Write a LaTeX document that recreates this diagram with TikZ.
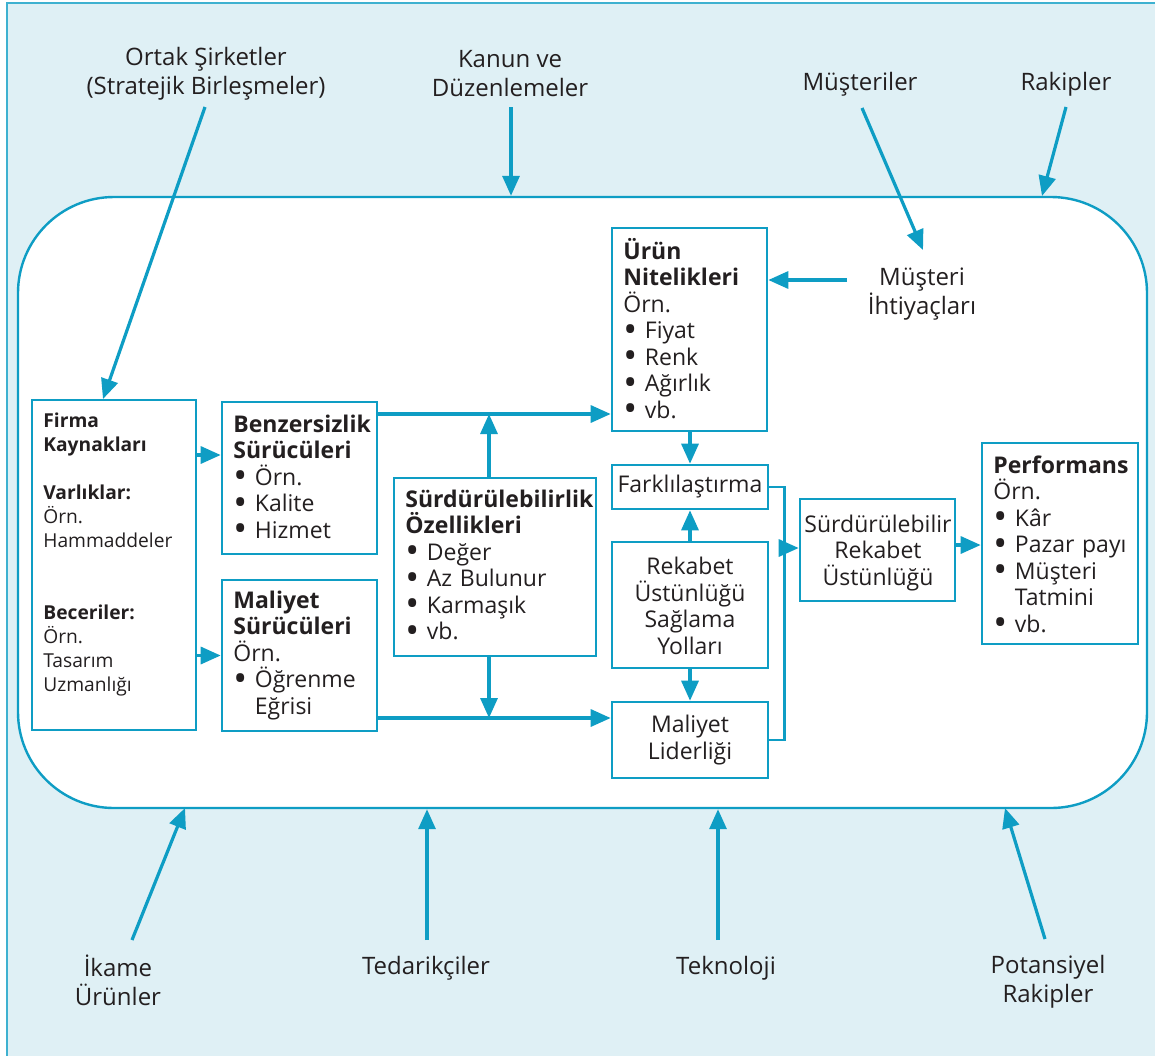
\documentclass[tikz,border=0pt]{standalone}
\usepackage{fontspec}
\setmainfont{Open Sans}
\usetikzlibrary{arrows.meta,fit}
\definecolor{cyanline}{RGB}{14,157,196}
\definecolor{paleblue}{RGB}{223,240,245}
\definecolor{ink}{RGB}{35,31,32}
% a larger list bullet
\newcommand{\bul}{\smash{\raisebox{-0.32ex}{\scalebox{1.6}{•}}}\ }

\begin{document}
\begin{tikzpicture}[x=0.5pt,y=-0.5pt,
  box/.style={draw=cyanline, line width=1.3pt, inner sep=0pt, fill=white},
  conn/.style={draw=cyanline, line width=1.6pt, -{Triangle[length=10pt,width=8.5pt]}},
  bracket/.style={draw=cyanline, line width=1.2pt},
  outer/.style={align=center, font=\fontsize{12}{14.5}\selectfont, text=ink, inner sep=0pt},
  boxtext/.style={anchor=base west, inner sep=0pt, align=left, text width=#1,
    font=\fontsize{11.5}{13.25}\selectfont, text=ink},
  smalltext/.style={anchor=base west, inner sep=0pt, align=left, text width=#1,
    font=\fontsize{9.6}{12}\selectfont, text=ink},
  ctext/.style={align=center, inner sep=0pt, font=\fontsize{11.5}{13.25}\selectfont, text=ink},
]
\useasboundingbox (0,0) rectangle (1155,1055);
\clip (0,0) rectangle (1155,1055);

% panel background
\fill[paleblue] (7,3) rectangle (1160,1060);
\draw[cyanline!80, line width=0.8pt] (7,1060) -- (7,3) -- (1160,3);

% company environment
\node[fit={(18,197) (1147,808)}, inner sep=0pt, draw=cyanline, line width=1.2pt,
      fill=white, rounded corners=48pt] (env) {};

% outside forces
\node[outer] (ortak) at (206,74) {Ortak Şirketler\\(Stratejik Birleşmeler)};
\node[outer] (kanun) at (510,74) {Kanun ve\\Düzenlemeler};
\node[outer] (must)  at (860,84) {Müşteriler};
\node[outer] (rakip) at (1066,84) {Rakipler};
\node[outer] (ihti)  at (922,294) {Müşteri\\İhtiyaçları};
\node[outer] (ikame) at (118,980) {İkame\\Ürünler};
\node[outer] (tedar) at (426,968) {Tedarikçiler};
\node[outer] (tekno) at (726,968) {Teknoloji};
\node[outer] (potan) at (1048,982) {Potansiyel\\Rakipler};

% boxes
\node[box, fit={(32,400) (196,730)}]  (firma) {};
\node[box, fit={(222,402) (377,554)}] (benz) {};
\node[box, fit={(222,580) (377,731)}] (mals) {};
\node[box, fit={(394,478) (596,656)}] (surd) {};
\node[box, fit={(612,228) (767,431)}] (urun) {};
\node[box, fit={(612,465) (768,509)}] (fark) {};
\node[box, fit={(612,542) (768,668)}] (rek) {};
\node[box, fit={(612,702) (768,778)}] (mall) {};
\node[box, fit={(800,499) (955,601)}] (srt) {};
\node[box, fit={(982,443) (1138,644)}] (perf) {};

% box contents
\node[smalltext=76pt] (firmaT) at (43,427)
  {\textbf{Firma}\\\textbf{Kaynakları}\\[12pt]\textbf{Varlıklar:}\\Örn.\\Hammaddeler\\[24pt]%
   \textbf{Beceriler:}\\Örn.\\Tasarım\\Uzmanlığı};
\node[boxtext=72pt] (benzT) at (233,432)
  {\textbf{Benzersizlik}\\\textbf{Sürücüleri}\\\bul Örn.\\\bul Kalite\\\bul Hizmet};
\node[boxtext=72pt] (malsT) at (233,608)
  {\textbf{Maliyet}\\\textbf{Sürücüleri}\\Örn.\\\bul Öğrenme\\\phantom{\bul}Eğrisi};
\node[boxtext=95pt] (surdT) at (405,507)
  {\textbf{Sürdürülebilirlik}\\\textbf{Özellikleri}\\\bul Değer\\\bul Az Bulunur\\\bul Karmaşık\\\bul vb.};
\node[boxtext=72pt] (urunT) at (623,259)
  {\textbf{Ürün}\\\textbf{Nitelikleri}\\Örn.\\\bul Fiyat\\\bul Renk\\\bul Ağırlık\\\bul vb.};
\node[boxtext=72pt] (perfT) at (993,473)
  {\textbf{Performans}\\Örn.\\\bul Kâr\\\bul Pazar payı\\\bul Müşteri\\\phantom{\bul}Tatmini\\\bul vb.};
\node[ctext] (farkT) at (fark.center) {Farklılaştırma};
\node[ctext] (rekT) at (690,606) {Rekabet\\Üstünlüğü\\Sağlama\\Yolları};
\node[ctext] (mallT) at (690,740) {Maliyet\\Liderliği};
\node[ctext] (srtT) at (878,553) {Sürdürülebilir\\Rekabet\\Üstünlüğü};

% arrow end points
\coordinate (ortakS) at (205,107);
\coordinate (ortakE) at (103,399);
\coordinate (kanunS) at (511,107);
\coordinate (mustS)  at (862,108);
\coordinate (mustE)  at (923,250);
\coordinate (rakipS) at (1066,107);
\coordinate (rakipE) at (1042,196);
\coordinate (ihtiS)  at (847,280);
\coordinate (ikameS) at (132,940);
\coordinate (ikameE) at (185,808);
\coordinate (tedarS) at (427,940);
\coordinate (teknoS) at (718,940);
\coordinate (potanS) at (1045,939);
\coordinate (potanE) at (1005,808);
\coordinate (fb) at (196,455);
\coordinate (bu) at (377,414);
\coordinate (mm) at (377,718);
\coordinate (su) at (489,478);
\coordinate (sd) at (489,656);
\coordinate (sp) at (955,545);

% forces acting on the company
\draw[conn] (ortakS) -- (ortakE);
\draw[conn] (kanunS) -- (kanunS |- env.north);
\draw[conn] (mustS) -- (mustE);
\draw[conn] (rakipS) -- (rakipE);
\draw[conn] (ihtiS) -- (urun.east |- ihtiS);
\draw[conn] (ikameS) -- (ikameE);
\draw[conn] (tedarS) -- (tedarS |- env.south);
\draw[conn] (teknoS) -- (teknoS |- env.south);
\draw[conn] (potanS) -- (potanE);

% internal flows
\draw[conn] (fb) -- (fb -| benz.west);
\draw[conn] (firma.east |- mals.west) -- (mals.west);
\draw[conn] (bu) -- (bu -| urun.west);
\draw[conn] (mm) -- (mm -| mall.west);
\draw[conn] (su) -- (su |- bu);
\draw[conn] (sd) -- (sd |- mm);
\draw[conn] (urun.south -| fark.north) -- (fark.north);
\draw[conn] (rek.north) -- (fark.south);
\draw[conn] (rek.south) -- (mall.north);
\draw[bracket] (fark.east) -- ++(15,0) |- (mall.east);
\coordinate (br) at (783,548);
\draw[conn] (br) -- (br -| srt.west);
\draw[conn] (sp) -- (sp -| perf.west);
\end{tikzpicture}
\end{document}
